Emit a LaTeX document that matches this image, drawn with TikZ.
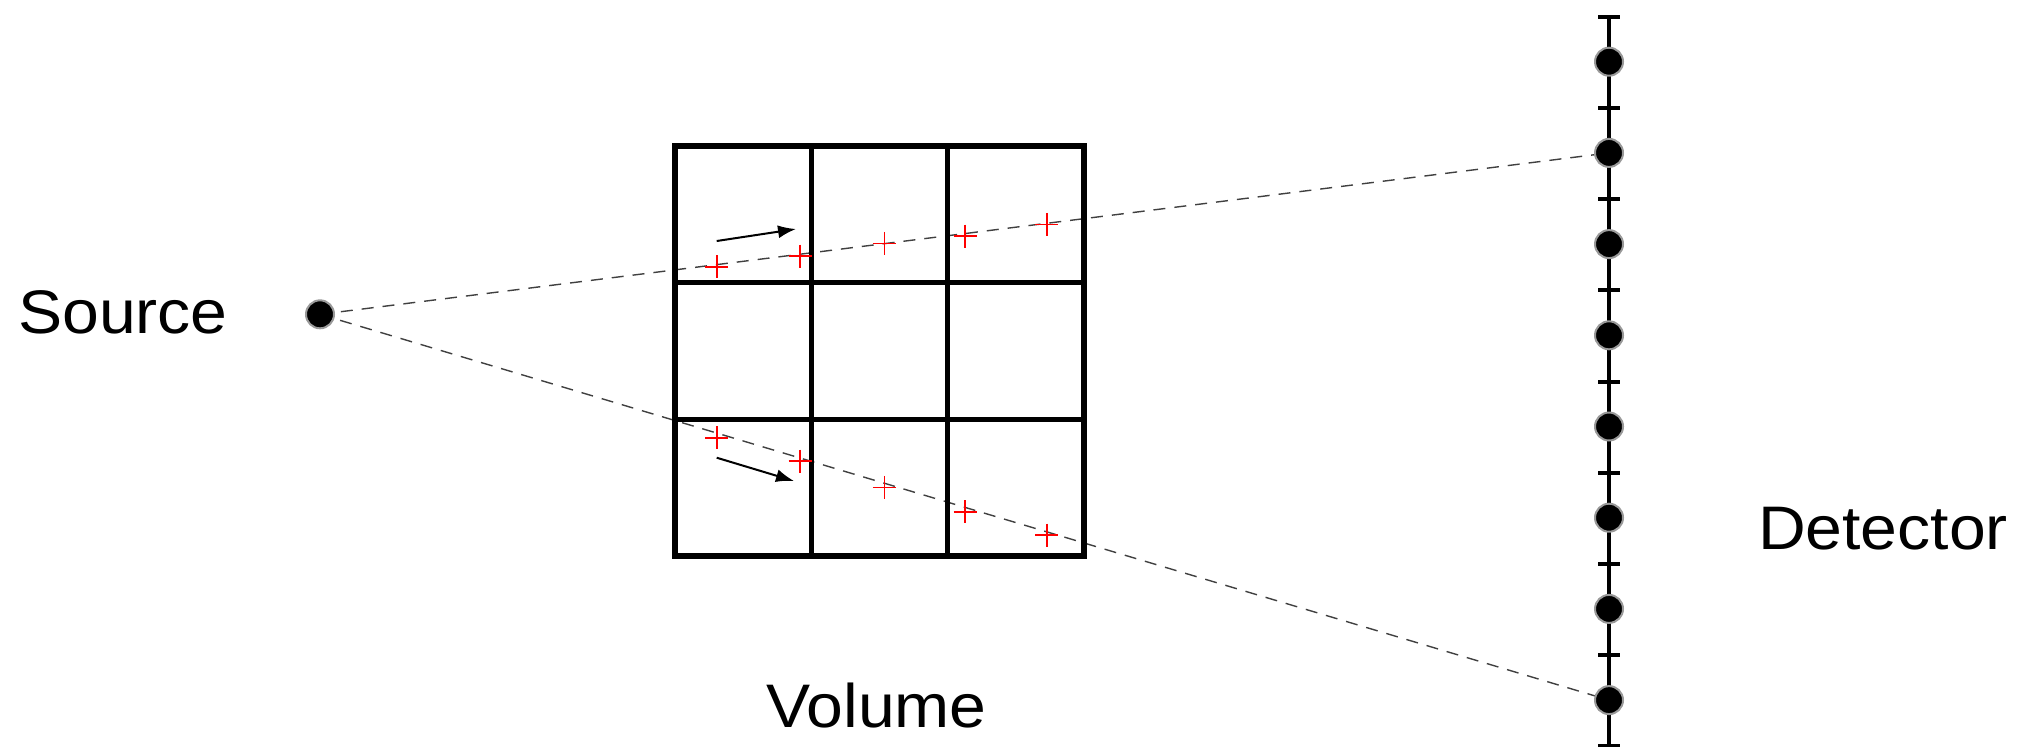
\documentclass[tikz,border=0pt]{standalone}
\usepackage{fontspec}
\setmainfont{Liberation Sans}
\usetikzlibrary{arrows.meta,backgrounds}
\tikzset{
  lbl/.style={inner sep=0pt, anchor=base, font=\fontsize{30.75}{36}\selectfont},
  gridline/.style={line width=2.7pt, line cap=rect},
  ray/.style={black!75, line width=0.7pt, dash pattern=on 6pt off 4.5pt},
  dot/.style={circle, fill=black, draw=black!40, line width=1pt, minimum size=14pt, inner sep=0pt},
  detline/.style={line width=2pt},
  dettick/.style={line width=2pt},
  dirarrow/.style={line width=1pt, -{Latex[length=9pt,width=6.5pt]}},
  redplus/.pic={\draw[red, line width=0.8pt] (-11.5,0)--(11.5,0) (0,-11.5)--(0,11.5);}
}
\begin{document}
\begin{tikzpicture}[x=0.5pt,y=-0.5pt]
\useasboundingbox (0,0) rectangle (2017,746);
% labels
\node[lbl] (srclabel) at (123,333) {\scalebox{1.075}[1]{Source}};
\node[lbl] (detlabel) at (1883,549) {\scalebox{1.075}[1]{Detector}};
\node[lbl] (vollabel) at (876.5,727) {\scalebox{1.075}[1]{Volume}};
% volume grid
\foreach \x in {675,811.3,947.7,1084} \draw[gridline] (\x,146) -- (\x,556);
\foreach \y in {146,282.7,419.3,556} \draw[gridline] (675,\y) -- (1084,\y);
% detector
\coordinate (dettop) at (1609,16.7);
\coordinate (detbot) at (1609,746);
\draw[detline] (dettop) -- (detbot);
\foreach \k in {0,...,8} {
  \draw[dettick] (1598,{16.7+91.2*\k}) -- (1620,{16.7+91.2*\k});
}
\foreach \k in {1,...,8} {
  \node[dot] (d\k) at (1609,{61.7+91.2*(\k-1)}) {};
}
% source
\node[dot] (src) at (320,314.3) {};
% rays
\begin{scope}[on background layer]
\draw[ray] (src.center) -- (d2.center);
\draw[ray] (src.center) -- (d8.center);
\end{scope}
% sample points
\foreach \x/\y in {716.7/266.7, 800/256, 884.3/243.3, 965/236, 1046.7/224.3,
                   716.7/437.7, 800/461, 884.3/487.3, 965/511.7, 1046.7/535} {
  \pic at (\x,\y) {redplus};
}
% direction arrows
\coordinate (a1s) at (716.7,241);
\coordinate (a1e) at (796,229);
\coordinate (a2s) at (716.7,457.7);
\coordinate (a2e) at (794,481);
\draw[dirarrow] (a1s) -- (a1e);
\draw[dirarrow] (a2s) -- (a2e);
\end{tikzpicture}
\end{document}
